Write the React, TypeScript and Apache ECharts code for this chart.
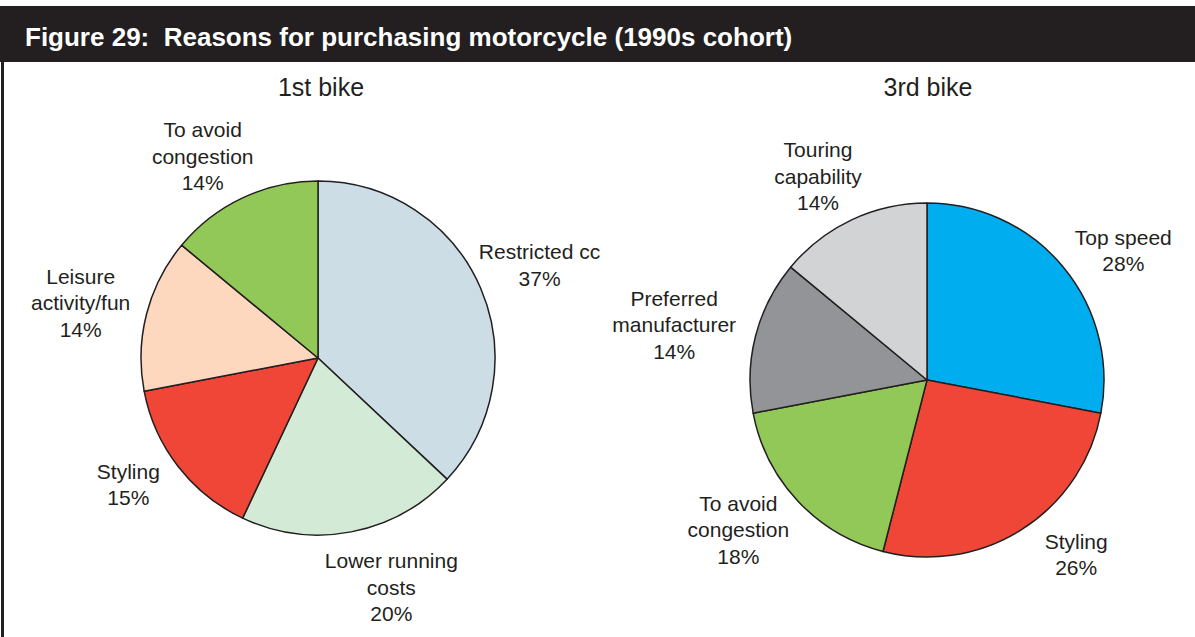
import React, { useEffect, useRef } from "react";
import * as echarts from "echarts";

const TITLE = "Figure 29:  Reasons for purchasing motorcycle (1990s cohort)";
const PIE1_TITLE = "1st bike";
const PIE2_TITLE = "3rd bike";

const bike1Labels = ["Restricted cc", "Lower running\ncosts", "Styling", "Leisure\nactivity/fun", "To avoid\ncongestion"];
const bike1Values = [37, 20, 15, 14, 14];
const bike1Colors = ["#cddde6", "#d3ebd6", "#ef4637", "#fdd8bf", "#92c857"];

const bike3Labels = ["Top speed", "Styling", "To avoid\ncongestion", "Preferred\nmanufacturer", "Touring\ncapability"];
const bike3Values = [28, 26, 18, 14, 14];
const bike3Colors = ["#00aeef", "#ef4637", "#92c857", "#929497", "#d1d3d4"];

// label fine-tuning (px) relative to the computed outside position
const bike1LabelNudge: [number, number][] = [[-9, 7], [29, -3], [-11, -12], [-2, 5], [-12, 18]];
const bike3LabelNudge: [number, number][] = [[12, 23], [29, -15], [-7, -21], [-6, 8], [-7, 13]];

const FONT = "'Liberation Sans', Arial, Helvetica, sans-serif";
const TEXT = "#231f20";
const R = 177;
const C1: [number, number] = [318, 358];
const C2: [number, number] = [927, 380];
const GAP = 8;

function makeLabelLayout(values: number[], c: [number, number], nudge: [number, number][]) {
  return (params: any) => {
    const total = values.reduce((a, b) => a + b, 0);
    let cum = 0;
    for (let i = 0; i < params.dataIndex; i++) cum += values[i];
    const mid = ((cum + values[params.dataIndex] / 2) / total) * Math.PI * 2;
    const s = Math.sin(mid);
    const co = Math.cos(mid);
    const hw = params.labelRect.width / 2;
    const hh = params.labelRect.height / 2;
    const d = R + GAP + Math.abs(s) * hw + Math.abs(co) * hh;
    const n = nudge[params.dataIndex] || [0, 0];
    return { x: c[0] + d * s + n[0], y: c[1] - d * co + n[1], align: "center", verticalAlign: "middle" };
  };
}

function pieSeries(labels: string[], values: number[], colors: string[], c: [number, number], nudge: [number, number][]) {
  return {
    type: "pie",
    center: c,
    radius: R,
    startAngle: 90,
    clockwise: true,
    avoidLabelOverlap: false,
    silent: true,
    data: labels.map((name, i) => ({ name, value: values[i], itemStyle: { color: colors[i] } })),
    itemStyle: { borderColor: "#231f20", borderWidth: 1.5 },
    label: {
      show: true,
      position: "outside",
      formatter: (p: any) => `${p.name}\n${p.value}%`,
      fontFamily: FONT,
      fontSize: 21,
      lineHeight: 26.5,
      color: TEXT,
      align: "center",
    },
    labelLine: { show: false },
    labelLayout: makeLabelLayout(values, c, nudge),
    emphasis: { disabled: true },
  };
}

export default function App() {
  const ref = useRef<HTMLDivElement>(null);
  useEffect(() => {
    if (!ref.current) return;
    const chart = echarts.init(ref.current, null, { renderer: "svg" });
    chart.setOption({
      animation: false,
      backgroundColor: "#ffffff",
      graphic: [
        { type: "rect", shape: { x: 0, y: 6, width: 1195, height: 56 }, style: { fill: "#231f20" } },
        { type: "rect", shape: { x: 1, y: 62, width: 3, height: 580 }, style: { fill: "#231f20" } },
        {
          type: "text",
          x: 25,
          y: 37,
          style: { text: TITLE, fill: "#ffffff", font: `bold 26px ${FONT}`, textVerticalAlign: "middle" },
        },
        {
          type: "text",
          x: 321,
          y: 87,
          style: { text: PIE1_TITLE, fill: TEXT, font: `25px ${FONT}`, textAlign: "center", textVerticalAlign: "middle" },
        },
        {
          type: "text",
          x: 928,
          y: 87,
          style: { text: PIE2_TITLE, fill: TEXT, font: `25px ${FONT}`, textAlign: "center", textVerticalAlign: "middle" },
        },
      ],
      series: [
        pieSeries(bike1Labels, bike1Values, bike1Colors, C1, bike1LabelNudge),
        pieSeries(bike3Labels, bike3Values, bike3Colors, C2, bike3LabelNudge),
      ],
    });
    return () => chart.dispose();
  }, []);
  return <div ref={ref} style={{ position: "fixed", left: 0, top: 0, width: 1195, height: 637 }} />;
}
